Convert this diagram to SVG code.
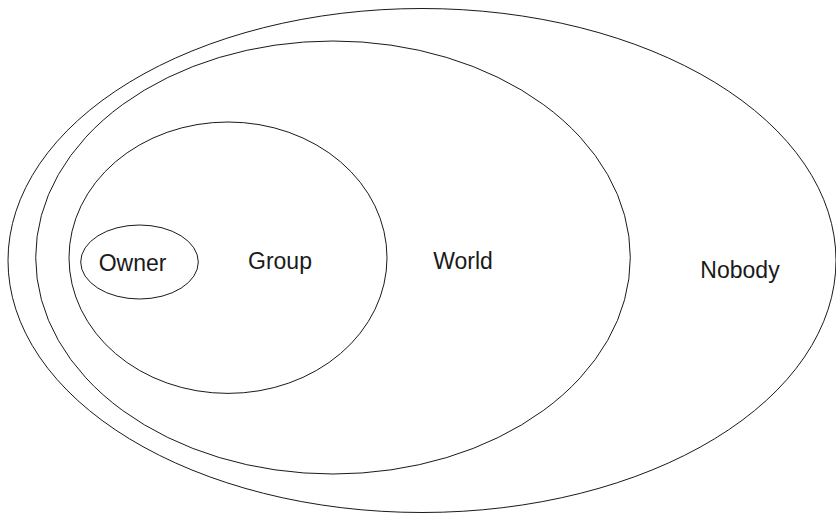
<svg xmlns="http://www.w3.org/2000/svg" width="836" height="514" viewBox="0 0 836 514">
<style>
.e{fill:none;stroke:#1a1a1a;stroke-width:1}
.t{font-family:"Liberation Sans",Arial,sans-serif;font-size:23px;fill:#1a1a1a;text-anchor:middle}
</style>
<rect width="836" height="514" fill="#fff"/>
<g id="nobody"><ellipse class="e" cx="422" cy="260.5" rx="414" ry="252"/><text class="t" x="740" y="277.5">Nobody</text></g>
<g id="world"><ellipse class="e" cx="333" cy="257.5" rx="297.3" ry="216.5"/><text class="t" x="463" y="268.5">World</text></g>
<g id="group"><ellipse class="e" cx="228" cy="257.7" rx="159" ry="135.7"/><text class="t" x="280" y="268.5">Group</text></g>
<g id="owner"><ellipse class="e" cx="139.5" cy="262" rx="58.8" ry="37"/><text class="t" x="132.5" y="270.5">Owner</text></g>
<g id="connectors"/>
</svg>
